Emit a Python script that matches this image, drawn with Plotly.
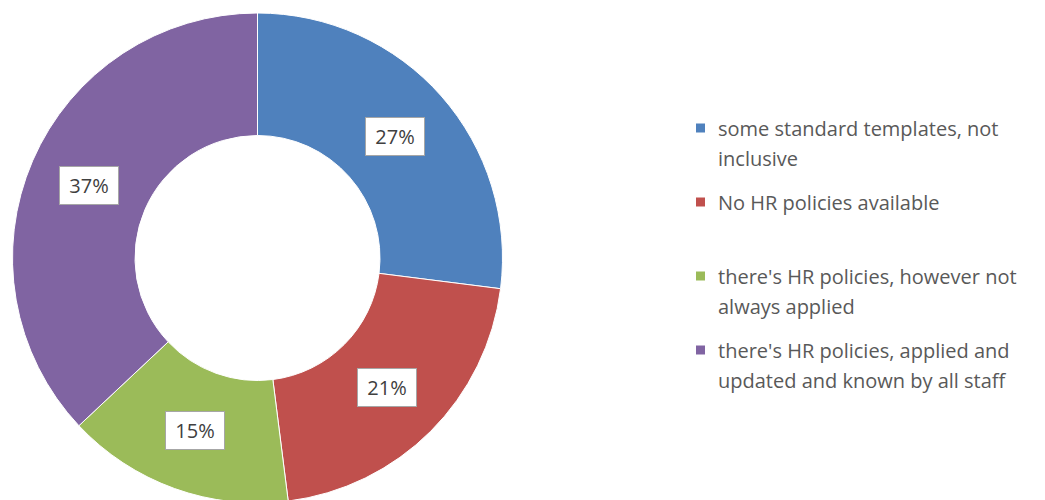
import math
import plotly.graph_objects as go

# ---- data ----
categories = [
    "some standard templates, not inclusive",
    "No HR policies available",
    "there's HR policies, however not always applied",
    "there's HR policies, applied and updated and known by all staff",
]
legend_lines = [
    ["some standard templates, not", "inclusive"],
    ["No HR policies available"],
    ["there's HR policies, however not", "always applied"],
    ["there's HR policies, applied and", "updated and known by all staff"],
]
values = [27, 21, 15, 37]
colors = ["#4F81BD", "#C0504D", "#9BBB59", "#8064A2"]

# ---- layout constants ----
W, H = 1045, 516
cx, cy, R = 257.5, 258.0, 245.0
hole = 0.5
FONT = "Open Sans"
TXT = "#595959"


def px(x, y):
    return x / W, 1 - y / H


fig = go.Figure(
    go.Pie(
        labels=categories,
        values=values,
        hole=hole,
        sort=False,
        direction="clockwise",
        rotation=0,
        textinfo="none",
        marker=dict(colors=colors, line=dict(color="white", width=1)),
        domain=dict(x=[(cx - R) / W, (cx + R) / W], y=[1 - (cy + R) / H, 1 - (cy - R) / H]),
        showlegend=False,
    )
)

annotations = []
shapes = []
total = sum(values)
cum = 0.0
r_mid = R * (1 + hole) / 2
for v in values:
    mid = (cum + v / 2) / total * 2 * math.pi
    cum += v
    x = cx + r_mid * math.sin(mid)
    y = cy - r_mid * math.cos(mid)
    xp, yp = px(x, y)
    annotations.append(dict(
        x=xp, y=yp, xref="paper", yref="paper", showarrow=False,
        text=f"{v / total * 100:.0f}%",
        font=dict(family=FONT, size=20, color="#404040"),
        bgcolor="white", bordercolor="#A6A6A6", borderwidth=1, borderpad=4,
        width=50, height=29, xanchor="center", yanchor="middle",
    ))

# legend drawn as annotations + square markers
leg_x_marker, leg_x_text, msize = 696, 716, 9
leg_y0, leg_slot, line_h = 128, 74, 30
for i, lines in enumerate(legend_lines):
    y0 = leg_y0 + i * leg_slot
    x0p, y0p = px(leg_x_marker, y0 - msize / 2)
    x1p, y1p = px(leg_x_marker + msize, y0 + msize / 2)
    shapes.append(dict(type="rect", xref="paper", yref="paper", x0=x0p, x1=x1p, y0=y1p, y1=y0p,
                       fillcolor=colors[i], line=dict(width=0)))
    for j, t in enumerate(lines):
        xp, yp = px(leg_x_text, y0 + j * line_h)
        annotations.append(dict(
            x=xp, y=yp, xref="paper", yref="paper", showarrow=False, text=t,
            font=dict(family=FONT, size=20, color=TXT), xanchor="left", yanchor="middle",
        ))

fig.update_layout(
    width=W, height=H,
    margin=dict(l=0, r=0, t=0, b=0),
    paper_bgcolor="white", plot_bgcolor="white",
    annotations=annotations, shapes=shapes,
    showlegend=False,
)

fig.write_html(
    "out.html",
    config={"displayModeBar": False},
    post_script="document.body.style.margin='0';document.body.style.overflow='hidden';document.documentElement.style.overflow='hidden';",
)
